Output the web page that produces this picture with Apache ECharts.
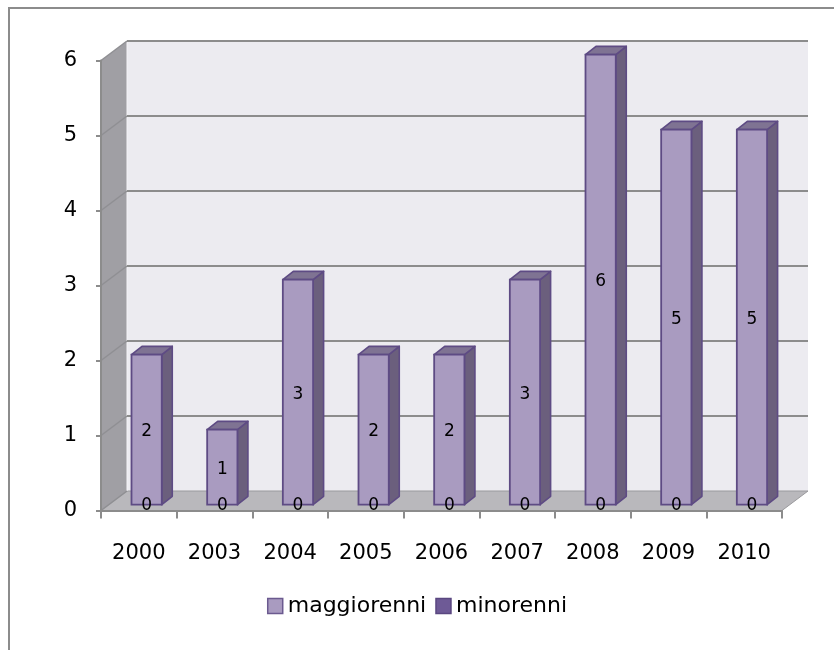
<!DOCTYPE html>
<html>
<head>
<meta charset="utf-8">
<title>maggiorenni / minorenni</title>
<script src="https://cdn.jsdelivr.net/npm/echarts@6/dist/echarts.min.js"></script>
<style>
  html, body { margin: 0; padding: 0; background: #fff; }
  #chart { width: 834px; height: 650px; }
</style>
</head>
<body>
<div id="chart"></div>
<script>
// Data
const categories = ['2000', '2003', '2004', '2005', '2006', '2007', '2008', '2009', '2010'];
const maggiorenni = [2, 1, 3, 2, 2, 3, 6, 5, 5];
const minorenni = [0, 0, 0, 0, 0, 0, 0, 0, 0];
const yTicks = [0, 1, 2, 3, 4, 5, 6];
const seriesNames = ['maggiorenni', 'minorenni'];

// 3D look: depth of the walls and of the bars (pixels)
const WALL_DX = 26, WALL_DY = -19.5;
const BAR_SHIFT = 0.3;          // bars sit 30% of the way into the floor
const BAR_DX = 10.5, BAR_DY = -8.3;
const BAR_WIDTH = 0.4;          // fraction of a category

const FONT = '"DejaVu Sans", sans-serif';
const GRID_GREY = '#8c8c8c';

function wallsItem(params, api) {
  const cs = params.coordSys;
  const left = cs.x, right = cs.x + cs.width;
  const y0 = api.coord([0, 0])[1];
  const yTop = api.coord([0, yTicks[yTicks.length - 1]])[1];
  const children = [];
  // back wall
  children.push({
    type: 'rect',
    shape: { x: left + WALL_DX, y: yTop + WALL_DY, width: right - left, height: y0 - yTop },
    style: { fill: '#ecebf0' }
  });
  // side wall
  children.push({
    type: 'polygon',
    shape: { points: [[left, y0], [left, yTop], [left + WALL_DX, yTop + WALL_DY], [left + WALL_DX, y0 + WALL_DY]] },
    style: { fill: '#a09fa4' }
  });
  // floor
  children.push({
    type: 'polygon',
    shape: { points: [[left, y0], [right, y0], [right + WALL_DX, y0 + WALL_DY], [left + WALL_DX, y0 + WALL_DY]] },
    style: { fill: '#b9b8bc', stroke: '#9a999d', lineWidth: 1 }
  });
  // edge between side wall and back wall
  children.push({
    type: 'line',
    shape: { x1: left + WALL_DX, y1: yTop + WALL_DY, x2: left + WALL_DX, y2: y0 + WALL_DY },
    style: { stroke: '#f4f3f7', lineWidth: 1 }
  });
  // grid lines on back and side walls
  yTicks.forEach(function (v) {
    const y = api.coord([0, v])[1];
    if (v > 0) {
      children.push({
        type: 'line',
        shape: { x1: left + WALL_DX, y1: y + WALL_DY, x2: right + WALL_DX, y2: y + WALL_DY },
        style: { stroke: GRID_GREY, lineWidth: 2 }
      });
    }
    children.push({
      type: 'line',
      shape: { x1: left, y1: y, x2: left + WALL_DX, y2: y + WALL_DY },
      style: { stroke: '#8f8f93', lineWidth: 1.5 }
    });
  });
  return { type: 'group', children: children };
}

function barItem(params, api) {
  const i = api.value(0), v = api.value(1);
  const base = api.coord([i, 0]);
  const top = api.coord([i, v]);
  const w = api.size([1, 0])[0] * BAR_WIDTH;
  const sx = BAR_SHIFT * WALL_DX, sy = BAR_SHIFT * WALL_DY;
  const x1 = base[0] - w / 2 + sx, x2 = base[0] + w / 2 + sx;
  const yb = base[1] + sy, yt = top[1] + sy;
  const stroke = '#5e4b84';
  const children = [];
  if (v > 0) {
    children.push({
      type: 'polygon',
      shape: { points: [[x2, yb], [x2, yt], [x2 + BAR_DX, yt + BAR_DY], [x2 + BAR_DX, yb + BAR_DY]] },
      style: { fill: '#6b5f7d', stroke: stroke, lineWidth: 1.6, lineJoin: 'round' }
    });
    children.push({
      type: 'polygon',
      shape: { points: [[x1, yt], [x2, yt], [x2 + BAR_DX, yt + BAR_DY], [x1 + BAR_DX, yt + BAR_DY]] },
      style: { fill: '#7f7393', stroke: stroke, lineWidth: 1.6, lineJoin: 'round' }
    });
    children.push({
      type: 'rect',
      shape: { x: x1, y: yt, width: x2 - x1, height: yb - yt },
      style: { fill: '#a99bc0', stroke: stroke, lineWidth: 1.8 }
    });
  }
  // value label
  children.push({
    type: 'text',
    style: {
      text: String(v),
      x: (x1 + x2) / 2,
      y: v > 0 ? (yt + yb) / 2 + 2 : yb + 1,
      align: 'center',
      verticalAlign: 'middle',
      font: '17px ' + FONT,
      fill: '#000'
    }
  });
  return { type: 'group', children: children };
}

const chart = echarts.init(document.getElementById('chart'), null, { renderer: 'canvas' });

chart.setOption({
  animation: false,
  backgroundColor: '#ffffff',
  graphic: [{
    type: 'rect',
    shape: { x: 9, y: 8, width: 900, height: 800 },
    style: { fill: 'none', stroke: GRID_GREY, lineWidth: 2 },
    z: 0
  }],
  grid: { left: 101, right: 52, top: 60.5, bottom: 139.5 },
  legend: {
    left: 'center',
    top: 590,
    icon: 'rect',
    itemWidth: 15,
    itemHeight: 15,
    itemGap: 9,
    textStyle: { fontFamily: FONT, fontSize: 22, color: '#000' },
    data: [
      { name: seriesNames[0], itemStyle: { color: '#a99bc0', borderColor: '#6b5a8f', borderWidth: 1.5 } },
      { name: seriesNames[1], itemStyle: { color: '#6e5a96', borderColor: '#5a4780', borderWidth: 1.5 } }
    ]
  },
  xAxis: {
    type: 'category',
    data: categories,
    z: 3,
    axisLine: { lineStyle: { color: GRID_GREY, width: 2 } },
    axisTick: { show: true, length: 8, lineStyle: { color: GRID_GREY, width: 2 } },
    axisLabel: { margin: 33, fontFamily: FONT, fontSize: 21, color: '#000' },
    splitLine: { show: false }
  },
  yAxis: {
    type: 'value',
    min: 0,
    max: 6,
    interval: 1,
    z: 3,
    axisLine: { show: true, lineStyle: { color: GRID_GREY, width: 2 } },
    axisTick: { show: true, length: 5, lineStyle: { color: GRID_GREY, width: 2 } },
    axisLabel: { margin: 24, fontFamily: FONT, fontSize: 21, color: '#000' },
    splitLine: { show: false }
  },
  series: [
    {
      name: 'walls',
      type: 'custom',
      z: 1,
      silent: true,
      renderItem: wallsItem,
      data: [[0, 0]]
    },
    {
      name: seriesNames[0],
      type: 'custom',
      z: 5,
      itemStyle: { color: '#a99bc0' },
      renderItem: barItem,
      data: maggiorenni.map(function (v, i) { return [i, v]; })
    },
    {
      name: seriesNames[1],
      type: 'custom',
      z: 6,
      itemStyle: { color: '#6e5a96' },
      renderItem: barItem,
      data: minorenni.map(function (v, i) { return [i, v]; })
    }
  ]
});
</script>
</body>
</html>
